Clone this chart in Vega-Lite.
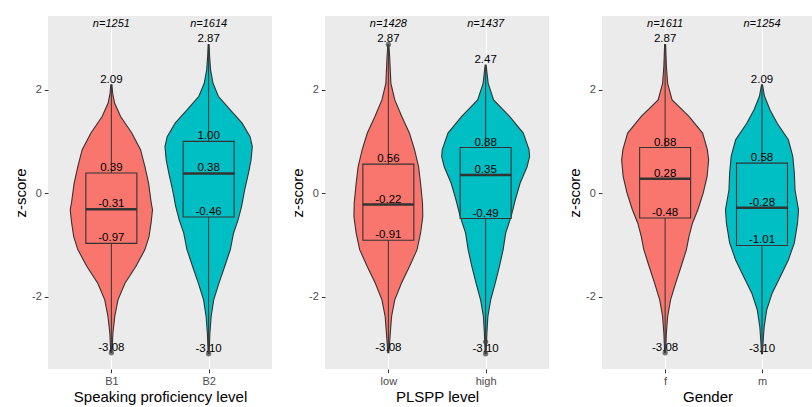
{
  "$schema": "https://vega.github.io/schema/vega-lite/v6.json",
  "padding": {"left": 13, "top": 16, "right": 0, "bottom": 0},
  "background": "white",
  "spacing": 53,
  "bounds": "flush",
  "datasets": {
    "violin": [
      {"panel": "speak", "g": "B1", "z": 2.09, "lo": 0.994, "hi": 1.006},
      {"panel": "speak", "g": "B1", "z": 1.93, "lo": 0.987, "hi": 1.013},
      {"panel": "speak", "g": "B1", "z": 1.74, "lo": 0.967, "hi": 1.033},
      {"panel": "speak", "g": "B1", "z": 1.48, "lo": 0.905, "hi": 1.095},
      {"panel": "speak", "g": "B1", "z": 1.16, "lo": 0.79, "hi": 1.21},
      {"panel": "speak", "g": "B1", "z": 0.84, "lo": 0.7, "hi": 1.3},
      {"panel": "speak", "g": "B1", "z": 0.51, "lo": 0.655, "hi": 1.345},
      {"panel": "speak", "g": "B1", "z": 0.19, "lo": 0.617, "hi": 1.383},
      {"panel": "speak", "g": "B1", "z": -0.19, "lo": 0.59, "hi": 1.41},
      {"panel": "speak", "g": "B1", "z": -0.32, "lo": 0.577, "hi": 1.423},
      {"panel": "speak", "g": "B1", "z": -0.58, "lo": 0.592, "hi": 1.408},
      {"panel": "speak", "g": "B1", "z": -0.84, "lo": 0.613, "hi": 1.387},
      {"panel": "speak", "g": "B1", "z": -1.09, "lo": 0.655, "hi": 1.345},
      {"panel": "speak", "g": "B1", "z": -1.42, "lo": 0.75, "hi": 1.25},
      {"panel": "speak", "g": "B1", "z": -1.74, "lo": 0.86, "hi": 1.14},
      {"panel": "speak", "g": "B1", "z": -2.06, "lo": 0.932, "hi": 1.068},
      {"panel": "speak", "g": "B1", "z": -2.38, "lo": 0.965, "hi": 1.035},
      {"panel": "speak", "g": "B1", "z": -2.7, "lo": 0.984, "hi": 1.016},
      {"panel": "speak", "g": "B1", "z": -3.08, "lo": 0.994, "hi": 1.006},
      {"panel": "speak", "g": "B2", "z": 2.87, "lo": 1.995, "hi": 2.005},
      {"panel": "speak", "g": "B2", "z": 2.64, "lo": 1.99, "hi": 2.01},
      {"panel": "speak", "g": "B2", "z": 2.38, "lo": 1.98, "hi": 2.02},
      {"panel": "speak", "g": "B2", "z": 2.12, "lo": 1.955, "hi": 2.045},
      {"panel": "speak", "g": "B2", "z": 1.87, "lo": 1.9, "hi": 2.1},
      {"panel": "speak", "g": "B2", "z": 1.61, "lo": 1.78, "hi": 2.22},
      {"panel": "speak", "g": "B2", "z": 1.35, "lo": 1.656, "hi": 2.344},
      {"panel": "speak", "g": "B2", "z": 1.09, "lo": 1.574, "hi": 2.426},
      {"panel": "speak", "g": "B2", "z": 0.9, "lo": 1.551, "hi": 2.449},
      {"panel": "speak", "g": "B2", "z": 0.64, "lo": 1.564, "hi": 2.436},
      {"panel": "speak", "g": "B2", "z": 0.39, "lo": 1.59, "hi": 2.41},
      {"panel": "speak", "g": "B2", "z": 0.06, "lo": 1.63, "hi": 2.37},
      {"panel": "speak", "g": "B2", "z": -0.26, "lo": 1.662, "hi": 2.338},
      {"panel": "speak", "g": "B2", "z": -0.52, "lo": 1.698, "hi": 2.302},
      {"panel": "speak", "g": "B2", "z": -0.77, "lo": 1.744, "hi": 2.256},
      {"panel": "speak", "g": "B2", "z": -1.09, "lo": 1.777, "hi": 2.223},
      {"panel": "speak", "g": "B2", "z": -1.42, "lo": 1.836, "hi": 2.164},
      {"panel": "speak", "g": "B2", "z": -1.74, "lo": 1.895, "hi": 2.105},
      {"panel": "speak", "g": "B2", "z": -2.06, "lo": 1.948, "hi": 2.052},
      {"panel": "speak", "g": "B2", "z": -2.38, "lo": 1.974, "hi": 2.026},
      {"panel": "speak", "g": "B2", "z": -2.7, "lo": 1.987, "hi": 2.013},
      {"panel": "speak", "g": "B2", "z": -3.1, "lo": 1.995, "hi": 2.005},
      {"panel": "plspp", "g": "low", "z": 2.87, "lo": 0.995, "hi": 1.005},
      {"panel": "plspp", "g": "low", "z": 2.64, "lo": 0.987, "hi": 1.013},
      {"panel": "plspp", "g": "low", "z": 2.12, "lo": 0.974, "hi": 1.026},
      {"panel": "plspp", "g": "low", "z": 1.8, "lo": 0.934, "hi": 1.066},
      {"panel": "plspp", "g": "low", "z": 1.48, "lo": 0.862, "hi": 1.138},
      {"panel": "plspp", "g": "low", "z": 1.16, "lo": 0.784, "hi": 1.216},
      {"panel": "plspp", "g": "low", "z": 0.84, "lo": 0.731, "hi": 1.269},
      {"panel": "plspp", "g": "low", "z": 0.51, "lo": 0.689, "hi": 1.311},
      {"panel": "plspp", "g": "low", "z": 0.19, "lo": 0.669, "hi": 1.331},
      {"panel": "plspp", "g": "low", "z": -0.19, "lo": 0.649, "hi": 1.351},
      {"panel": "plspp", "g": "low", "z": -0.45, "lo": 0.646, "hi": 1.354},
      {"panel": "plspp", "g": "low", "z": -0.77, "lo": 0.669, "hi": 1.331},
      {"panel": "plspp", "g": "low", "z": -1.09, "lo": 0.705, "hi": 1.295},
      {"panel": "plspp", "g": "low", "z": -1.42, "lo": 0.784, "hi": 1.216},
      {"panel": "plspp", "g": "low", "z": -1.74, "lo": 0.866, "hi": 1.134},
      {"panel": "plspp", "g": "low", "z": -2.06, "lo": 0.934, "hi": 1.066},
      {"panel": "plspp", "g": "low", "z": -2.38, "lo": 0.967, "hi": 1.033},
      {"panel": "plspp", "g": "low", "z": -2.7, "lo": 0.98, "hi": 1.02},
      {"panel": "plspp", "g": "low", "z": -3.08, "lo": 0.995, "hi": 1.005},
      {"panel": "plspp", "g": "high", "z": 2.47, "lo": 1.995, "hi": 2.005},
      {"panel": "plspp", "g": "high", "z": 2.12, "lo": 1.974, "hi": 2.026},
      {"panel": "plspp", "g": "high", "z": 1.8, "lo": 1.918, "hi": 2.082},
      {"panel": "plspp", "g": "high", "z": 1.48, "lo": 1.754, "hi": 2.246},
      {"panel": "plspp", "g": "high", "z": 1.16, "lo": 1.613, "hi": 2.387},
      {"panel": "plspp", "g": "high", "z": 0.84, "lo": 1.554, "hi": 2.446},
      {"panel": "plspp", "g": "high", "z": 0.71, "lo": 1.548, "hi": 2.452},
      {"panel": "plspp", "g": "high", "z": 0.51, "lo": 1.574, "hi": 2.426},
      {"panel": "plspp", "g": "high", "z": 0.19, "lo": 1.646, "hi": 2.354},
      {"panel": "plspp", "g": "high", "z": -0.13, "lo": 1.695, "hi": 2.305},
      {"panel": "plspp", "g": "high", "z": -0.45, "lo": 1.738, "hi": 2.262},
      {"panel": "plspp", "g": "high", "z": -0.77, "lo": 1.794, "hi": 2.206},
      {"panel": "plspp", "g": "high", "z": -1.09, "lo": 1.82, "hi": 2.18},
      {"panel": "plspp", "g": "high", "z": -1.42, "lo": 1.859, "hi": 2.141},
      {"panel": "plspp", "g": "high", "z": -1.74, "lo": 1.902, "hi": 2.098},
      {"panel": "plspp", "g": "high", "z": -2.06, "lo": 1.948, "hi": 2.052},
      {"panel": "plspp", "g": "high", "z": -2.38, "lo": 1.977, "hi": 2.023},
      {"panel": "plspp", "g": "high", "z": -2.7, "lo": 1.987, "hi": 2.013},
      {"panel": "plspp", "g": "high", "z": -3.1, "lo": 1.995, "hi": 2.005},
      {"panel": "gender", "g": "f", "z": 2.87, "lo": 0.995, "hi": 1.005},
      {"panel": "gender", "g": "f", "z": 2.45, "lo": 0.987, "hi": 1.013},
      {"panel": "gender", "g": "f", "z": 2.12, "lo": 0.974, "hi": 1.026},
      {"panel": "gender", "g": "f", "z": 1.8, "lo": 0.928, "hi": 1.072},
      {"panel": "gender", "g": "f", "z": 1.48, "lo": 0.754, "hi": 1.246},
      {"panel": "gender", "g": "f", "z": 1.16, "lo": 0.613, "hi": 1.387},
      {"panel": "gender", "g": "f", "z": 0.84, "lo": 0.564, "hi": 1.436},
      {"panel": "gender", "g": "f", "z": 0.64, "lo": 0.551, "hi": 1.449},
      {"panel": "gender", "g": "f", "z": 0.32, "lo": 0.567, "hi": 1.433},
      {"panel": "gender", "g": "f", "z": 0.0, "lo": 0.607, "hi": 1.393},
      {"panel": "gender", "g": "f", "z": -0.32, "lo": 0.662, "hi": 1.338},
      {"panel": "gender", "g": "f", "z": -0.58, "lo": 0.718, "hi": 1.282},
      {"panel": "gender", "g": "f", "z": -0.84, "lo": 0.754, "hi": 1.246},
      {"panel": "gender", "g": "f", "z": -1.09, "lo": 0.78, "hi": 1.22},
      {"panel": "gender", "g": "f", "z": -1.42, "lo": 0.836, "hi": 1.164},
      {"panel": "gender", "g": "f", "z": -1.74, "lo": 0.892, "hi": 1.108},
      {"panel": "gender", "g": "f", "z": -2.06, "lo": 0.944, "hi": 1.056},
      {"panel": "gender", "g": "f", "z": -2.38, "lo": 0.974, "hi": 1.026},
      {"panel": "gender", "g": "f", "z": -2.7, "lo": 0.987, "hi": 1.013},
      {"panel": "gender", "g": "f", "z": -3.08, "lo": 0.995, "hi": 1.005},
      {"panel": "gender", "g": "m", "z": 2.09, "lo": 1.995, "hi": 2.005},
      {"panel": "gender", "g": "m", "z": 1.87, "lo": 1.974, "hi": 2.026},
      {"panel": "gender", "g": "m", "z": 1.61, "lo": 1.918, "hi": 2.082},
      {"panel": "gender", "g": "m", "z": 1.35, "lo": 1.843, "hi": 2.157},
      {"panel": "gender", "g": "m", "z": 1.03, "lo": 1.728, "hi": 2.272},
      {"panel": "gender", "g": "m", "z": 0.71, "lo": 1.682, "hi": 2.318},
      {"panel": "gender", "g": "m", "z": 0.39, "lo": 1.666, "hi": 2.334},
      {"panel": "gender", "g": "m", "z": 0.06, "lo": 1.659, "hi": 2.341},
      {"panel": "gender", "g": "m", "z": -0.32, "lo": 1.623, "hi": 2.377},
      {"panel": "gender", "g": "m", "z": -0.58, "lo": 1.633, "hi": 2.367},
      {"panel": "gender", "g": "m", "z": -0.96, "lo": 1.666, "hi": 2.334},
      {"panel": "gender", "g": "m", "z": -1.29, "lo": 1.728, "hi": 2.272},
      {"panel": "gender", "g": "m", "z": -1.61, "lo": 1.81, "hi": 2.19},
      {"panel": "gender", "g": "m", "z": -1.93, "lo": 1.895, "hi": 2.105},
      {"panel": "gender", "g": "m", "z": -2.25, "lo": 1.951, "hi": 2.049},
      {"panel": "gender", "g": "m", "z": -2.57, "lo": 1.977, "hi": 2.023},
      {"panel": "gender", "g": "m", "z": -2.83, "lo": 1.987, "hi": 2.013},
      {"panel": "gender", "g": "m", "z": -3.1, "lo": 1.995, "hi": 2.005}
    ],
    "stats": [
      {"panel": "speak", "g": "B1", "pos": 1, "n": 1251, "min": -3.08, "q1": -0.97, "med": -0.31, "q3": 0.39, "max": 2.09},
      {"panel": "speak", "g": "B2", "pos": 2, "n": 1614, "min": -3.1, "q1": -0.46, "med": 0.38, "q3": 1.0, "max": 2.87},
      {"panel": "plspp", "g": "low", "pos": 1, "n": 1428, "min": -3.08, "q1": -0.91, "med": -0.22, "q3": 0.56, "max": 2.87},
      {"panel": "plspp", "g": "high", "pos": 2, "n": 1437, "min": -3.1, "q1": -0.49, "med": 0.35, "q3": 0.88, "max": 2.47},
      {"panel": "gender", "g": "f", "pos": 1, "n": 1611, "min": -3.08, "q1": -0.48, "med": 0.28, "q3": 0.88, "max": 2.87},
      {"panel": "gender", "g": "m", "pos": 2, "n": 1254, "min": -3.1, "q1": -1.01, "med": -0.28, "q3": 0.58, "max": 2.09}
    ],
    "outliers": [
      {"panel": "speak", "g": "B1", "pos": 1, "z": -3.08},
      {"panel": "speak", "g": "B2", "pos": 2, "z": -3.1},
      {"panel": "plspp", "g": "low", "pos": 1, "z": 2.87},
      {"panel": "plspp", "g": "high", "pos": 2, "z": -2.87},
      {"panel": "plspp", "g": "high", "pos": 2, "z": -3.1},
      {"panel": "gender", "g": "f", "pos": 1, "z": -3.08}
    ]
  },
  "hconcat": [
    {
      "width": 224, "height": 353,
      "layer": [
        {"mark": {"type": "rule", "color": "black", "strokeDash": [5, 4], "strokeWidth": 1}, "encoding": {"y": {"datum": 0, "type": "quantitative"}}},
        {"data": {"name": "violin"}, "transform": [{"filter": "datum.panel === 'speak'"}],
         "mark": {"type": "area", "orient": "horizontal", "stroke": "#333333", "strokeWidth": 1.1, "opacity": 1},
         "encoding": {
           "y": {"field": "z", "type": "quantitative", "scale": {"domain": [-3.394, 3.419], "nice": false, "zero": false},
                 "axis": {"title": "z-score", "values": [-3, -2, -1, 0, 1, 2, 3], "labelExpr": "datum.value % 2 === 0 ? '' + datum.value : ''",
                          "gridWidth": {"condition": {"test": "datum.value % 2 !== 0", "value": 0.55}, "value": 1.1},
                          "tickOpacity": {"condition": {"test": "datum.value % 2 !== 0", "value": 0}, "value": 1}}},
           "x": {"field": "lo", "type": "quantitative", "scale": {"domain": [0.4, 2.6], "nice": false, "zero": false},
                 "axis": {"title": "Speaking proficiency level", "values": [1, 2], "labelExpr": "datum.value === 1 ? 'B1' : 'B2'"}},
           "x2": {"field": "hi"},
           "color": {"field": "g", "type": "nominal", "legend": null, "scale": {"domain": ["B1", "B2", "low", "high", "f", "m"], "range": ["#F8766D", "#00BFC4", "#F8766D", "#00BFC4", "#F8766D", "#00BFC4"]}}
         }},
        {"data": {"name": "stats"}, "transform": [{"filter": "datum.panel === 'speak'"}],
         "mark": {"type": "rule", "color": "#333333", "strokeWidth": 1},
         "encoding": {"x": {"field": "pos", "type": "quantitative"}, "y": {"field": "min", "type": "quantitative"}, "y2": {"field": "max"}}},
        {"data": {"name": "stats"}, "transform": [{"filter": "datum.panel === 'speak'"}],
         "mark": {"type": "bar", "size": 51, "stroke": "#333333", "strokeWidth": 1.1},
         "encoding": {"x": {"field": "pos", "type": "quantitative"}, "y": {"field": "q1", "type": "quantitative"}, "y2": {"field": "q3"},
                      "color": {"field": "g", "type": "nominal", "legend": null}}},
        {"data": {"name": "stats"}, "transform": [{"filter": "datum.panel === 'speak'"}],
         "mark": {"type": "tick", "orient": "horizontal", "size": 51, "thickness": 2.5, "color": "#333333", "opacity": 1},
         "encoding": {"x": {"field": "pos", "type": "quantitative"}, "y": {"field": "med", "type": "quantitative"}}},
        {"data": {"name": "outliers"}, "transform": [{"filter": "datum.panel === 'speak'"}],
         "mark": {"type": "circle", "size": 28, "color": "#444444", "opacity": 0.7},
         "encoding": {"x": {"field": "pos", "type": "quantitative"}, "y": {"field": "z", "type": "quantitative"}}},
        {"data": {"name": "stats"}, "transform": [{"filter": "datum.panel === 'speak'"}, {"fold": ["min", "q1", "med", "q3", "max"], "as": ["stat", "value"]}],
         "mark": {"type": "text", "fontSize": 11.5, "baseline": "alphabetic", "dy": -2, "color": "black"},
         "encoding": {"x": {"field": "pos", "type": "quantitative"}, "y": {"field": "value", "type": "quantitative"}, "text": {"field": "value", "type": "quantitative", "format": ".2f"}}},
        {"data": {"name": "stats"}, "transform": [{"filter": "datum.panel === 'speak'"}],
         "mark": {"type": "text", "fontSize": 11, "fontStyle": "italic", "baseline": "middle", "color": "black", "text": {"expr": "'n=' + datum.n"}},
         "encoding": {"x": {"field": "pos", "type": "quantitative"}, "y": {"datum": 3.26, "type": "quantitative"}}}
      ]
    },
    {
      "width": 224, "height": 353,
      "layer": [
        {"mark": {"type": "rule", "color": "black", "strokeDash": [5, 4], "strokeWidth": 1}, "encoding": {"y": {"datum": 0, "type": "quantitative"}}},
        {"data": {"name": "violin"}, "transform": [{"filter": "datum.panel === 'plspp'"}],
         "mark": {"type": "area", "orient": "horizontal", "stroke": "#333333", "strokeWidth": 1.1, "opacity": 1},
         "encoding": {
           "y": {"field": "z", "type": "quantitative", "scale": {"domain": [-3.394, 3.419], "nice": false, "zero": false},
                 "axis": {"title": "z-score", "values": [-3, -2, -1, 0, 1, 2, 3], "labelExpr": "datum.value % 2 === 0 ? '' + datum.value : ''",
                          "gridWidth": {"condition": {"test": "datum.value % 2 !== 0", "value": 0.55}, "value": 1.1},
                          "tickOpacity": {"condition": {"test": "datum.value % 2 !== 0", "value": 0}, "value": 1}}},
           "x": {"field": "lo", "type": "quantitative", "scale": {"domain": [0.4, 2.6], "nice": false, "zero": false},
                 "axis": {"title": "PLSPP level", "values": [1, 2], "labelExpr": "datum.value === 1 ? 'low' : 'high'"}},
           "x2": {"field": "hi"},
           "color": {"field": "g", "type": "nominal", "legend": null, "scale": {"domain": ["B1", "B2", "low", "high", "f", "m"], "range": ["#F8766D", "#00BFC4", "#F8766D", "#00BFC4", "#F8766D", "#00BFC4"]}}
         }},
        {"data": {"name": "stats"}, "transform": [{"filter": "datum.panel === 'plspp'"}],
         "mark": {"type": "rule", "color": "#333333", "strokeWidth": 1},
         "encoding": {"x": {"field": "pos", "type": "quantitative"}, "y": {"field": "min", "type": "quantitative"}, "y2": {"field": "max"}}},
        {"data": {"name": "stats"}, "transform": [{"filter": "datum.panel === 'plspp'"}],
         "mark": {"type": "bar", "size": 51, "stroke": "#333333", "strokeWidth": 1.1},
         "encoding": {"x": {"field": "pos", "type": "quantitative"}, "y": {"field": "q1", "type": "quantitative"}, "y2": {"field": "q3"},
                      "color": {"field": "g", "type": "nominal", "legend": null}}},
        {"data": {"name": "stats"}, "transform": [{"filter": "datum.panel === 'plspp'"}],
         "mark": {"type": "tick", "orient": "horizontal", "size": 51, "thickness": 2.5, "color": "#333333", "opacity": 1},
         "encoding": {"x": {"field": "pos", "type": "quantitative"}, "y": {"field": "med", "type": "quantitative"}}},
        {"data": {"name": "outliers"}, "transform": [{"filter": "datum.panel === 'plspp'"}],
         "mark": {"type": "circle", "size": 28, "color": "#444444", "opacity": 0.7},
         "encoding": {"x": {"field": "pos", "type": "quantitative"}, "y": {"field": "z", "type": "quantitative"}}},
        {"data": {"name": "stats"}, "transform": [{"filter": "datum.panel === 'plspp'"}, {"fold": ["min", "q1", "med", "q3", "max"], "as": ["stat", "value"]}],
         "mark": {"type": "text", "fontSize": 11.5, "baseline": "alphabetic", "dy": -2, "color": "black"},
         "encoding": {"x": {"field": "pos", "type": "quantitative"}, "y": {"field": "value", "type": "quantitative"}, "text": {"field": "value", "type": "quantitative", "format": ".2f"}}},
        {"data": {"name": "stats"}, "transform": [{"filter": "datum.panel === 'plspp'"}],
         "mark": {"type": "text", "fontSize": 11, "fontStyle": "italic", "baseline": "middle", "color": "black", "text": {"expr": "'n=' + datum.n"}},
         "encoding": {"x": {"field": "pos", "type": "quantitative"}, "y": {"datum": 3.26, "type": "quantitative"}}}
      ]
    },
    {
      "width": 211, "height": 353,
      "layer": [
        {"mark": {"type": "rule", "color": "black", "strokeDash": [5, 4], "strokeWidth": 1}, "encoding": {"y": {"datum": 0, "type": "quantitative"}}},
        {"data": {"name": "violin"}, "transform": [{"filter": "datum.panel === 'gender'"}],
         "mark": {"type": "area", "orient": "horizontal", "stroke": "#333333", "strokeWidth": 1.1, "opacity": 1},
         "encoding": {
           "y": {"field": "z", "type": "quantitative", "scale": {"domain": [-3.394, 3.419], "nice": false, "zero": false},
                 "axis": {"title": "z-score", "values": [-3, -2, -1, 0, 1, 2, 3], "labelExpr": "datum.value % 2 === 0 ? '' + datum.value : ''",
                          "gridWidth": {"condition": {"test": "datum.value % 2 !== 0", "value": 0.55}, "value": 1.1},
                          "tickOpacity": {"condition": {"test": "datum.value % 2 !== 0", "value": 0}, "value": 1}}},
           "x": {"field": "lo", "type": "quantitative", "scale": {"domain": [0.4, 2.475], "nice": false, "zero": false},
                 "axis": {"title": "Gender", "values": [1, 2], "labelExpr": "datum.value === 1 ? 'f' : 'm'"}},
           "x2": {"field": "hi"},
           "color": {"field": "g", "type": "nominal", "legend": null, "scale": {"domain": ["B1", "B2", "low", "high", "f", "m"], "range": ["#F8766D", "#00BFC4", "#F8766D", "#00BFC4", "#F8766D", "#00BFC4"]}}
         }},
        {"data": {"name": "stats"}, "transform": [{"filter": "datum.panel === 'gender'"}],
         "mark": {"type": "rule", "color": "#333333", "strokeWidth": 1},
         "encoding": {"x": {"field": "pos", "type": "quantitative"}, "y": {"field": "min", "type": "quantitative"}, "y2": {"field": "max"}}},
        {"data": {"name": "stats"}, "transform": [{"filter": "datum.panel === 'gender'"}],
         "mark": {"type": "bar", "size": 51, "stroke": "#333333", "strokeWidth": 1.1},
         "encoding": {"x": {"field": "pos", "type": "quantitative"}, "y": {"field": "q1", "type": "quantitative"}, "y2": {"field": "q3"},
                      "color": {"field": "g", "type": "nominal", "legend": null}}},
        {"data": {"name": "stats"}, "transform": [{"filter": "datum.panel === 'gender'"}],
         "mark": {"type": "tick", "orient": "horizontal", "size": 51, "thickness": 2.5, "color": "#333333", "opacity": 1},
         "encoding": {"x": {"field": "pos", "type": "quantitative"}, "y": {"field": "med", "type": "quantitative"}}},
        {"data": {"name": "outliers"}, "transform": [{"filter": "datum.panel === 'gender'"}],
         "mark": {"type": "circle", "size": 28, "color": "#444444", "opacity": 0.7},
         "encoding": {"x": {"field": "pos", "type": "quantitative"}, "y": {"field": "z", "type": "quantitative"}}},
        {"data": {"name": "stats"}, "transform": [{"filter": "datum.panel === 'gender'"}, {"fold": ["min", "q1", "med", "q3", "max"], "as": ["stat", "value"]}],
         "mark": {"type": "text", "fontSize": 11.5, "baseline": "alphabetic", "dy": -2, "color": "black"},
         "encoding": {"x": {"field": "pos", "type": "quantitative"}, "y": {"field": "value", "type": "quantitative"}, "text": {"field": "value", "type": "quantitative", "format": ".2f"}}},
        {"data": {"name": "stats"}, "transform": [{"filter": "datum.panel === 'gender'"}],
         "mark": {"type": "text", "fontSize": 11, "fontStyle": "italic", "baseline": "middle", "color": "black", "text": {"expr": "'n=' + datum.n"}},
         "encoding": {"x": {"field": "pos", "type": "quantitative"}, "y": {"datum": 3.26, "type": "quantitative"}}}
      ]
    }
  ],
  "config": {
    "font": "Liberation Sans",
    "locale": {"number": {"decimal": ".", "thousands": ",", "grouping": [3], "currency": ["$", ""], "minus": "-"}},
    "view": {"fill": "#EBEBEB", "stroke": null},
    "axis": {
      "domain": false, "gridColor": "#FFFFFF", "gridWidth": 1.1, "gridOpacity": 1,
      "tickColor": "#333333", "tickSize": 3.7, "tickWidth": 1,
      "labelColor": "#4D4D4D", "labelFontSize": 11, "labelFont": "Liberation Sans", "labelPadding": 2.5,
      "titleFont": "Liberation Sans", "titleFontSize": 15, "titleFontWeight": "normal", "titleColor": "#000000", "titlePadding": 3.5
    },
    "axisY": {"titlePadding": 3, "labelPadding": 3}
  }
}
